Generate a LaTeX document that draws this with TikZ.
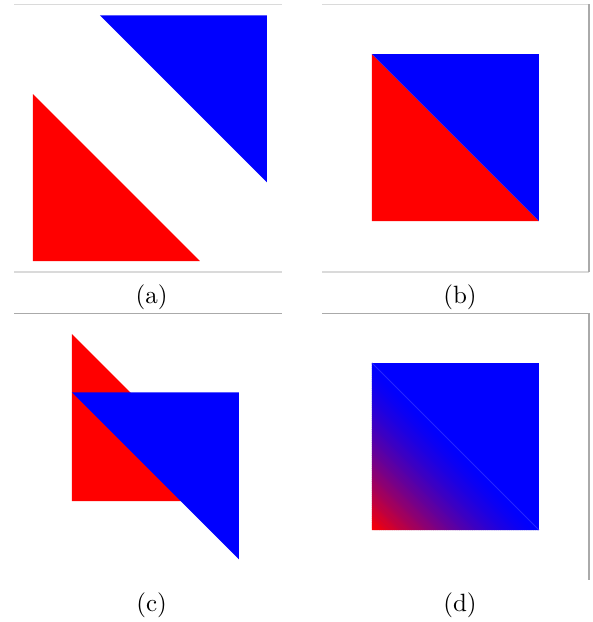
\documentclass[tikz,border=0pt]{standalone}
\usepackage{xcolor}
\usetikzlibrary{math}
\definecolor{rulelight}{RGB}{218,218,218}
\definecolor{ruledark}{RGB}{170,170,170}

\begin{document}
\begin{tikzpicture}[x=0.4pt,y=0.4pt]
\tikzmath{
\s=167;
\n=90;
\w=\s/\n;
}
\useasboundingbox (0,0) rectangle (593,622);

\coordinate (Ra) at (33,361);
\coordinate (Ba) at (267,606.7);
\coordinate (Sb) at (372,401);
\coordinate (Rc) at (72,121);
\coordinate (Bc) at (239,229.7);
\coordinate (Sd) at (372,92);

% frame lines
\draw[color=rulelight, line width=0.5] (14.3,617.7) -- (281.7,617.7);
\draw[color=rulelight, line width=0.5] (14.3,350) -- (281.7,350);
\draw[color=rulelight, line width=0.5] (322.3,617.7) -- (589,617.7);
\draw[color=rulelight, line width=0.5] (322.3,350) -- (589,350);
\draw[color=ruledark, line width=0.5] (589,617.7) -- (589,350);
\draw[color=ruledark, line width=0.5] (14.3,308.7) -- (281.7,308.7);
\draw[color=ruledark, line width=0.5] (322.3,308.7) -- (589,308.7) -- (589,42);

% (a)
\fill[red] (Ra) -- ++(0,\s) -- ++(\s,-\s) -- cycle;
\fill[blue] (Ba) -- ++(-\s,0) -- ++(\s,-\s) -- cycle;
\node (labA) at (151.7,324.5) {(a)};

% (b)
\fill[red] (Sb) -- ++(0,\s) -- ++(\s,-\s) -- cycle;
\fill[blue] (Sb) ++(0,\s) -- ++(\s,0) -- ++(0,-\s) -- cycle;
\node (labB) at (460,324.5) {(b)};

% (c)
\fill[red] (Rc) -- ++(0,\s) -- ++(\s,-\s) -- cycle;
\fill[blue] (Bc) -- ++(-\s,0) -- ++(\s,-\s) -- cycle;
\node (labC) at (151.7,17) {(c)};

% (d) -- red to blue in strips along the diagonal
\fill[blue] (Sd) rectangle ++(\s,\s);
\foreach \i in {0,...,89}{
  \pgfmathsetmacro{\pr}{100*(1-(\i+0.5)/\n)^1.4}
  \pgfmathsetmacro{\ca}{\i*\w}
  \pgfmathsetmacro{\cb}{min(\s,(\i+1.3)*\w)}
  \fill[red!\pr!blue] ([xshift=\ca*0.4pt]Sd) -- ([xshift=\cb*0.4pt]Sd)
    -- ([yshift=\cb*0.4pt]Sd) -- ([yshift=\ca*0.4pt]Sd) -- cycle;
}
\draw[color=blue!85!white, line width=0.3] (Sd) ++(0,\s) -- ++(\s,-\s);
\node (labD) at (460,17) {(d)};

\end{tikzpicture}
\end{document}
